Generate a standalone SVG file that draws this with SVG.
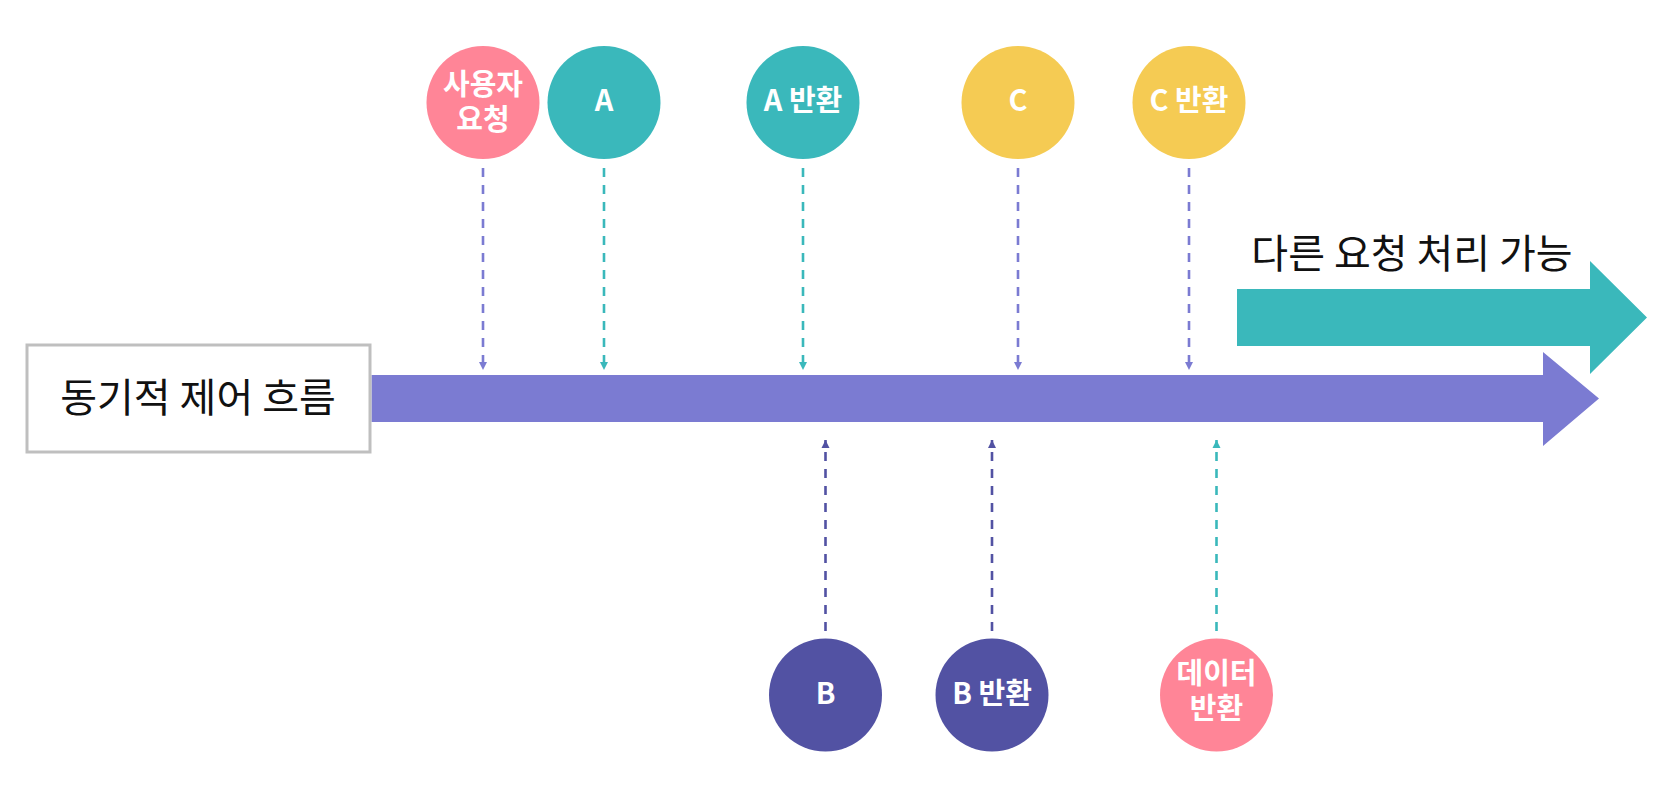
<svg xmlns="http://www.w3.org/2000/svg" width="1676" height="795" viewBox="0 0 1676 795">
<style>
.lbl{font-family:"Noto Sans CJK KR","Noto Sans",sans-serif;font-weight:bold;font-size:29px;fill:#ffffff;text-anchor:middle}
.big{font-family:"Noto Sans CJK KR","Noto Sans",sans-serif;font-size:40px;fill:#111111;text-anchor:middle}
.dash{fill:none;stroke-width:2.6;stroke-dasharray:9 8}
.pur{stroke:#7B7BD2}
.tea{stroke:#3AB8BB}
.dpu{stroke:#5252A3}
</style>
<defs>
<marker id="mPur" viewBox="0 0 10 10" refX="10" refY="5" markerWidth="3.2" markerHeight="3.2" orient="auto" markerUnits="strokeWidth"><path d="M0,0 L10,5 L0,10 Z" fill="#7B7BD2"/></marker>
<marker id="mTea" viewBox="0 0 10 10" refX="10" refY="5" markerWidth="3.2" markerHeight="3.2" orient="auto" markerUnits="strokeWidth"><path d="M0,0 L10,5 L0,10 Z" fill="#3AB8BB"/></marker>
<marker id="mDpu" viewBox="0 0 10 10" refX="10" refY="5" markerWidth="3.2" markerHeight="3.2" orient="auto" markerUnits="strokeWidth"><path d="M0,0 L10,5 L0,10 Z" fill="#5252A3"/></marker>
</defs>

<g id="main-arrow">
<polygon points="371.5,375 1543,375 1543,352 1599,398.5 1543,446 1543,422 371.5,422" fill="#7B7BD2"/>
</g>
<g id="other-arrow">
<polygon points="1237,289 1590,289 1590,261 1647,317.5 1590,374 1590,346 1237,346" fill="#3AB8BB"/>
<text class="big" x="1412" y="268">다른 요청 처리 가능</text>
</g>
<g id="sync-box">
<rect x="27" y="345" width="343" height="107" fill="#ffffff" stroke="#BFBFBF" stroke-width="3"/>
<text class="big" x="198" y="412" font-size="39">동기적 제어 흐름</text>
</g>

<g id="connectors">
<line class="dash pur" x1="483" y1="168" x2="483" y2="370" marker-end="url(#mPur)"/>
<line class="dash tea" x1="604" y1="168" x2="604" y2="370" marker-end="url(#mTea)"/>
<line class="dash tea" x1="803" y1="168" x2="803" y2="370" marker-end="url(#mTea)"/>
<line class="dash pur" x1="1018" y1="168" x2="1018" y2="370" marker-end="url(#mPur)"/>
<line class="dash pur" x1="1189" y1="168" x2="1189" y2="370" marker-end="url(#mPur)"/>
<line class="dash dpu" x1="825.5" y1="631" x2="825.5" y2="440" marker-end="url(#mDpu)"/>
<line class="dash dpu" x1="992" y1="631" x2="992" y2="440" marker-end="url(#mDpu)"/>
<line class="dash tea" x1="1216.5" y1="631" x2="1216.5" y2="440" marker-end="url(#mTea)"/>
</g>

<g id="user-request">
<circle cx="483" cy="102.5" r="56.5" fill="#FF8597"/>
<text class="lbl" x="483" y="95">사용자</text>
<text class="lbl" x="483" y="130">요청</text>
</g>
<g id="a">
<circle cx="604" cy="102.5" r="56.5" fill="#3AB8BB"/>
<text class="lbl" x="604" y="111">A</text>
</g>
<g id="a-return">
<circle cx="803" cy="102.5" r="56.5" fill="#3AB8BB"/>
<text class="lbl" x="803" y="111">A 반환</text>
</g>
<g id="c">
<circle cx="1018" cy="102.5" r="56.5" fill="#F5CB53"/>
<text class="lbl" x="1018" y="111">C</text>
</g>
<g id="c-return">
<circle cx="1189" cy="102.5" r="56.5" fill="#F5CB53"/>
<text class="lbl" x="1189" y="111">C 반환</text>
</g>
<g id="b">
<circle cx="825.5" cy="695" r="56.5" fill="#5252A3"/>
<text class="lbl" x="825.5" y="704">B</text>
</g>
<g id="b-return">
<circle cx="992" cy="695" r="56.5" fill="#5252A3"/>
<text class="lbl" x="992" y="704">B 반환</text>
</g>
<g id="data-return">
<circle cx="1216.5" cy="695" r="56.5" fill="#FF8597"/>
<text class="lbl" x="1216.5" y="684">데이터</text>
<text class="lbl" x="1216.5" y="719">반환</text>
</g>
</svg>
